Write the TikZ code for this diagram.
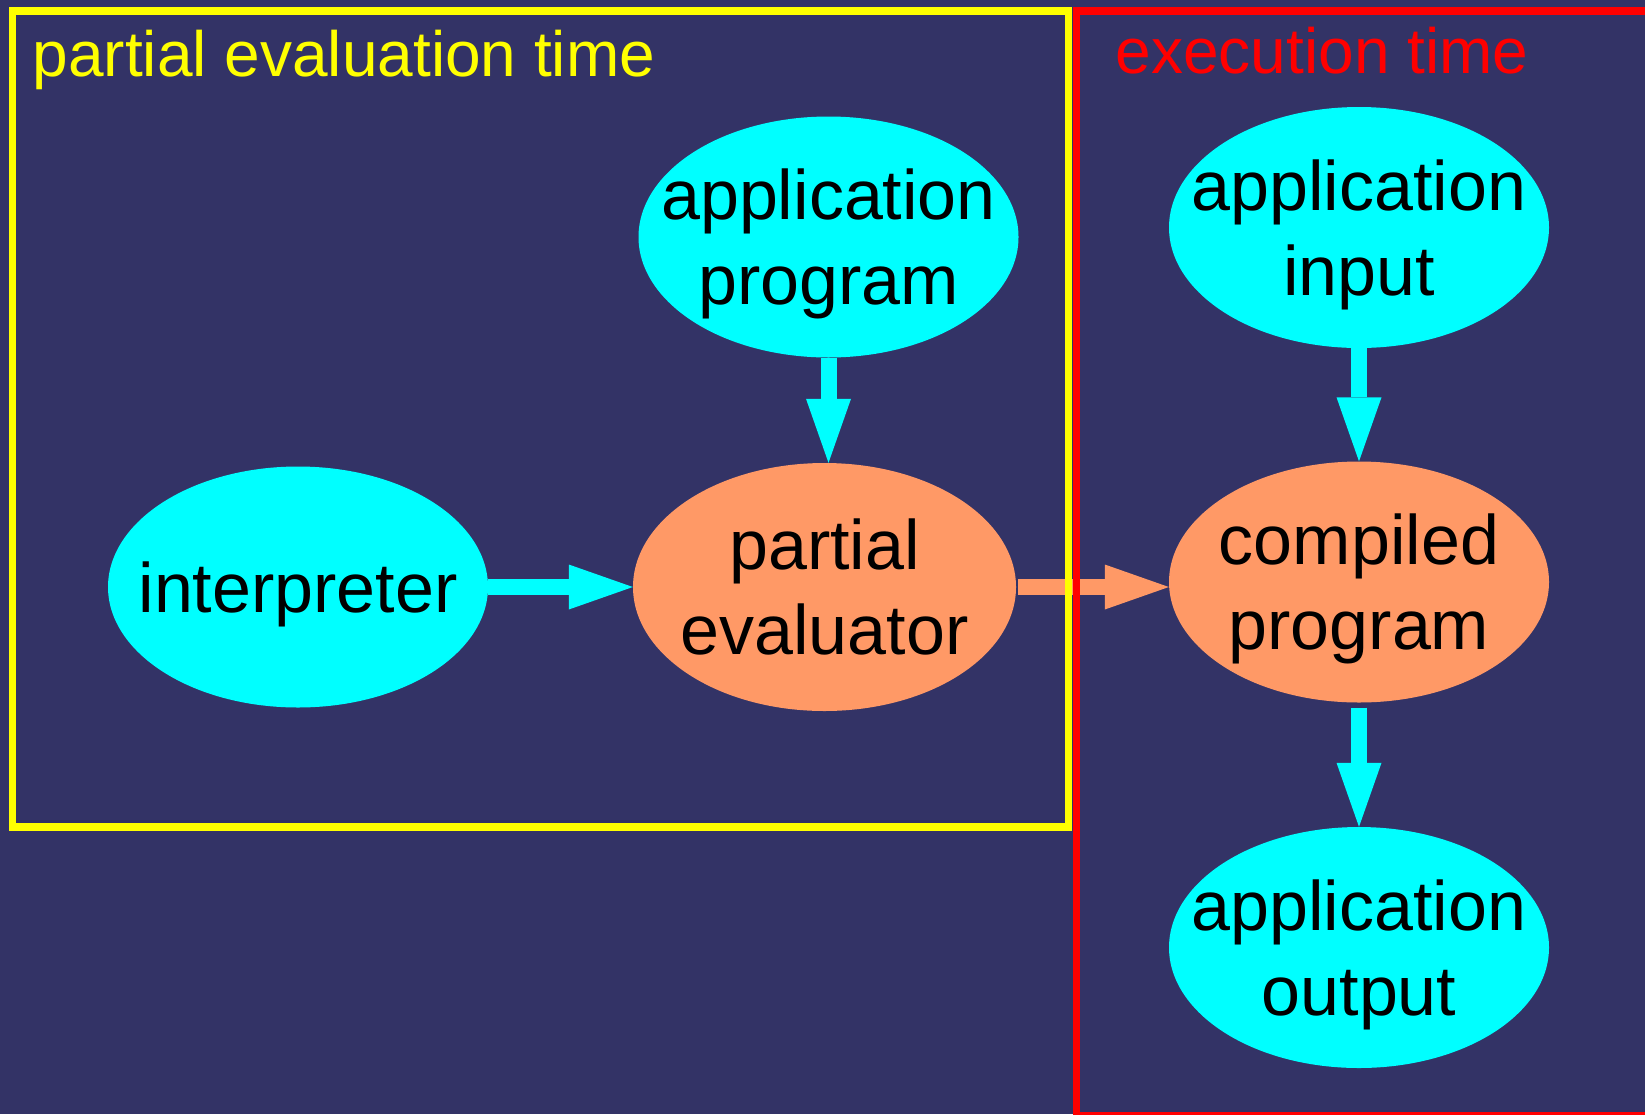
\documentclass[tikz,border=0pt]{standalone}
\usepackage{fontspec}
\setmainfont{Liberation Sans}
\usetikzlibrary{arrows.meta,shapes.geometric}
\definecolor{bg}{RGB}{51,51,102}
\definecolor{cyanc}{RGB}{0,255,255}
\definecolor{orangec}{RGB}{255,153,102}
\definecolor{yellowc}{RGB}{255,255,0}
\definecolor{redc}{RGB}{255,0,0}
\newcommand\lstrut{\rule[-16pt]{0pt}{82pt}}
\begin{document}
\begin{tikzpicture}[x=1pt,y=-1pt,
  el/.style={ellipse, draw=none, inner sep=0pt, minimum width=380pt, minimum height=241pt},
  cy/.style={el, fill=cyanc},
  orn/.style={el, fill=orangec},
  lab/.style={align=center, inner sep=0pt, text=black, font=\fontsize{70}{85}\selectfont},
  title/.style={anchor=base west, inner sep=0pt, font=\fontsize{64}{77}\selectfont},
  arr/.style={line width=16pt, -{Triangle[length=64pt,width=45pt,line width=0pt]}},
  frame/.style={line width=7.5pt}
]
\useasboundingbox (0,0) rectangle (1645,1114);
\clip (0,0) rectangle (1645,1114);
\fill[bg] (0,0) rectangle (1645,1114);

% nodes
\node[cy, label={[lab]center:{\lstrut application\\\lstrut program}}] (ap) at (828.5,237) {};
\node[cy, label={[lab]center:{\lstrut interpreter}}] (interp) at (298,587) {};
\node[orn, minimum width=383pt, minimum height=248pt, label={[lab]center:{\lstrut partial\\\lstrut evaluator}}] (pe) at (824.5,587) {};
\node[cy, label={[lab]center:{\lstrut application\\\lstrut input}}] (ai) at (1359,227.5) {};
\node[orn, label={[lab]center:{\lstrut compiled\\\lstrut program}}] (cp) at (1359,582) {};
\node[cy, label={[lab]center:{\lstrut application\\\lstrut output}}] (ao) at (1359,947.5) {};

% connectors
\draw[arr, cyanc] (ap) -- (ap |- pe.north);
\draw[arr, cyanc] (interp) -- (pe);
\draw[arr, orangec, shorten <=2pt] (pe) -- (pe -| cp.west);
\draw[arr, cyanc] (ai) -- (cp);
\draw[arr, cyanc, shorten <=5pt] (cp) -- (ao);

% frames
\draw[frame, yellowc] (12.5,11) rectangle (1068.5,827);
\draw[frame, redc] (1076.4,11) rectangle (1720,1115.5);

% titles
\node[title, text=yellowc] (t1) at (32.5,76) {partial evaluation time};
\node[title, text=redc] (t2) at (1115.5,73) {execution time};
\end{tikzpicture}
\end{document}
